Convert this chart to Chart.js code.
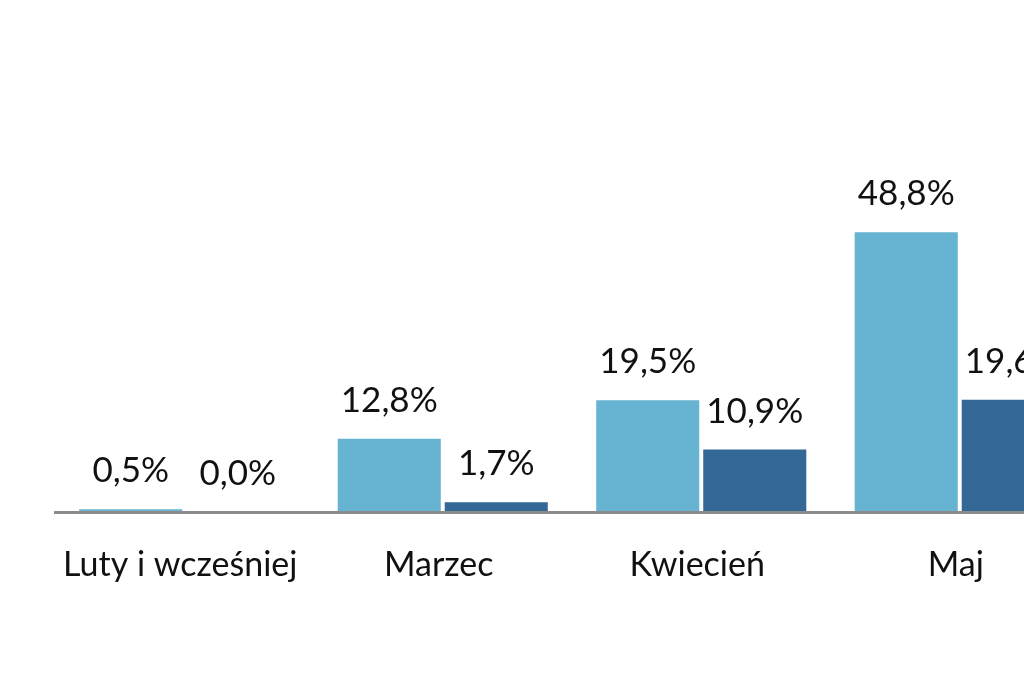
<!DOCTYPE html>
<html>
<head>
<meta charset="utf-8">
<script src="https://cdn.jsdelivr.net/npm/chart.js@4"></script>
<style>
html,body{margin:0;padding:0;background:#fff;overflow:hidden;}
#wrap{width:1024px;height:678px;overflow:hidden;position:relative;}
canvas{display:block;}
</style>
</head>
<body>
<div id="wrap"><canvas id="c" width="1090" height="678"></canvas></div>
<script>
const categories = ["Luty i wcześniej", "Marzec", "Kwiecień", "Maj"];
const seriesA = [0.5, 12.8, 19.5, 48.8];
const seriesB = [0.0, 1.7, 10.9, 19.6];
const colorA = "#67b3d2";
const colorB = "#346896";

function fmt(v){ return v.toFixed(1).replace('.', ',') + '%'; }

const valueLabels = {
  id: 'valueLabels',
  afterDatasetsDraw(chart) {
    const ctx = chart.ctx;
    ctx.save();
    ctx.font = '400 35px Lato';
    ctx.fillStyle = '#111';
    ctx.textAlign = 'center';
    ctx.textBaseline = 'alphabetic';
    chart.data.datasets.forEach((ds, i) => {
      const meta = chart.getDatasetMeta(i);
      meta.data.forEach((el, j) => {
        ctx.fillText(fmt(ds.data[j]), el.x, el.y - 27);
      });
    });
    ctx.restore();
  }
};

new Chart(document.getElementById('c'), {
  type: 'bar',
  data: {
    labels: categories,
    datasets: [
      { data: seriesA, backgroundColor: colorA, categoryPercentage: 0.828, barPercentage: 0.963 },
      { data: seriesB, backgroundColor: colorB, categoryPercentage: 0.828, barPercentage: 0.963 }
    ]
  },
  options: {
    responsive: false,
    animation: false,
    devicePixelRatio: 1,
    layout: { padding: { top: 2, left: 55, right: 1, bottom: 0 } },
    plugins: { legend: { display: false }, tooltip: { enabled: false } },
    scales: {
      y: { display: false, min: 0, max: 89 },
      x: {
        afterFit(scale) { scale.height = 166; },
        grid: { display: false, drawTicks: false },
        border: { display: true, color: '#8c8c8c', width: 3, z: 1 },
        ticks: { color: '#111', font: { family: 'Lato', size: 34, weight: '400' }, padding: 33, labelOffset: -4, maxRotation: 0, autoSkip: false }
      }
    }
  },
  plugins: [valueLabels]
});
</script>
</body>
</html>
